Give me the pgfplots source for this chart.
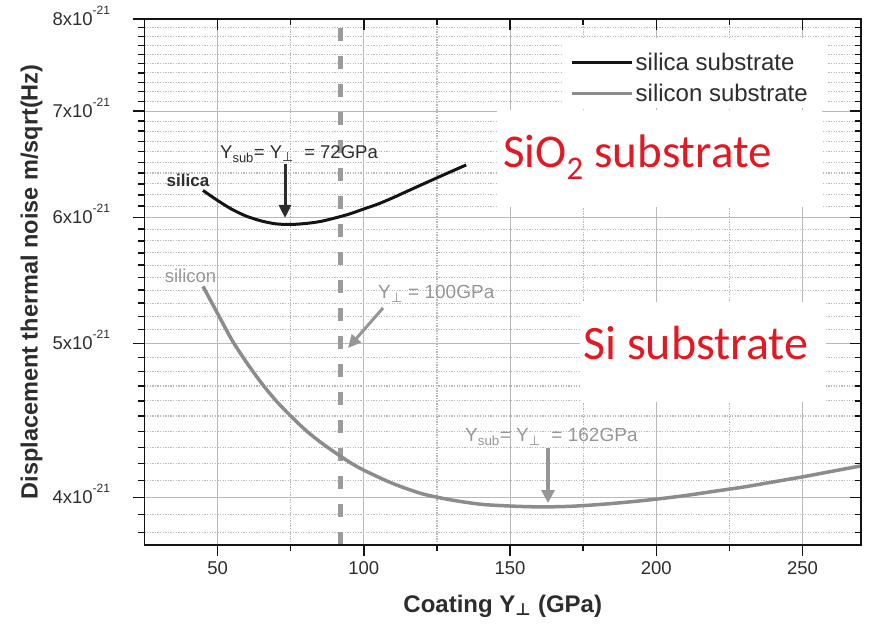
\documentclass[border=0pt]{standalone}
\usepackage{pgfplots}
\pgfplotsset{compat=1.18}
\usepackage{fontspec}
\setmainfont{Liberation Sans}
\newfontfamily\calibri{Carlito}
\newfontfamily\dejavu{DejaVu Sans}
\usetikzlibrary{arrows.meta}
\definecolor{cblack}{RGB}{20,20,20}
\definecolor{tblack}{RGB}{45,45,45}
\definecolor{cgray}{RGB}{140,140,140}
\definecolor{dgray}{RGB}{155,155,155}
\definecolor{tgray}{RGB}{150,150,150}
\definecolor{gridgray}{RGB}{185,185,185}
\definecolor{cred}{RGB}{225,25,35}
\newcommand{\perpsub}{\textsubscript{\dejavu ⊥}}
\newcommand{\perpsubb}{\textsubscript{\dejavu\bfseries ⊥}}
\newcommand{\sci}[1]{#1x10\raisebox{0.62em}{\fontsize{12}{12}\selectfont -21}}

\pgfplotstableread{
x y
45 6.24
50 6.15
55 6.07
60 6.01
65 5.97
70 5.945
75 5.94
80 5.948
85 5.965
90 5.995
95 6.03
100 6.075
105 6.12
110 6.175
115 6.235
120 6.295
125 6.355
130 6.415
135 6.475
}\silica

\pgfplotstableread{
x y
45 5.43
50 5.22
55 5.02
60 4.86
65 4.72
70 4.60
75 4.50
80 4.41
85 4.335
90 4.27
95 4.21
100 4.16
110 4.08
120 4.02
130 3.985
140 3.96
150 3.95
160 3.945
170 3.948
180 3.958
190 3.972
200 3.99
210 4.01
220 4.035
230 4.06
240 4.09
250 4.12
260 4.153
270 4.186
}\silicon

\begin{document}
\begin{tikzpicture}
\begin{axis}[
  at={(144.5pt,81pt)}, anchor=south west,
  width=716.5pt, height=526pt, scale only axis,
  xmin=25, xmax=270, ymin=3.733, ymax=8, ymode=log,
  xtick={50,100,150,200,250}, minor xtick={75,125,175,225},
  ytick={4,5,6,7,8},
  minor ytick={3.8,3.9,4.1,4.2,4.3,4.4,4.5,4.6,4.7,4.8,4.9,5.1,5.2,5.3,5.4,5.5,5.6,5.7,5.8,5.9,6.1,6.2,6.3,6.4,6.5,6.6,6.7,6.8,6.9,7.1,7.2,7.3,7.4,7.5,7.6,7.7,7.8,7.9},
  major tick length=11pt, minor tick length=6pt,
  tick style={cblack, line width=1.4pt},
  axis line style={cblack, line width=1.8pt},
  xtick pos=left, ytick pos=left, tick align=outside,
  xticklabels={50,100,150,200,250},
  yticklabels={\sci{4},\sci{5},\sci{6},\sci{7},\sci{8}},
  tick label style={font=\fontsize{18.5}{18.5}\selectfont, text=tblack},
  yticklabel style={anchor=base east, xshift=-20pt, yshift=-6.5pt},
  xticklabel style={yshift=-2pt},
  grid=both,
  major grid style={draw=gridgray, line width=1.1pt, solid},
  minor grid style={draw=gridgray, line width=1.1pt, dash pattern=on 1.3pt off 1.3pt},
  xlabel={\bfseries Coating Y\perpsubb\ (GPa)},
  ylabel={\bfseries Displacement thermal noise m/sqrt(Hz)},
  every axis x label/.style={at={(axis description cs:0.5,0)}, anchor=center, yshift=-61pt, font=\fontsize{24}{24}\selectfont, text=tblack},
  every axis y label/.style={at={([xshift=-113pt]axis description cs:0,0.5)}, rotate=90, anchor=center, font=\fontsize{23.5}{23.5}\selectfont, text=tblack},
  legend style={at={(0.5827,0.951)}, anchor=north west, draw=none, fill=none,
    font=\fontsize{24}{24}\selectfont, text=tblack, row sep=8pt, inner xsep=8pt, inner ysep=6pt},
  legend cell align=left,
  legend image code/.code={\draw[#1] (0pt,0pt) -- (60pt,0pt);},
]
% white boxes behind the text blocks
\fill[white] (rel axis cs:0.492,0.6426) rectangle (rel axis cs:0.9456,0.827);
\fill[white] (rel axis cs:0.6078,0.2719) rectangle (rel axis cs:0.9511,0.462);
\fill[white] (rel axis cs:0.5827,0.8308) rectangle (rel axis cs:0.9539,0.9639);

\addplot[dgray, line width=4.5pt, dash pattern=on 13pt off 15pt, forget plot] coordinates {(92,3.733) (92,8)};

\addplot[cblack, line width=3pt, smooth] table[x=x,y=y] {\silica};
\addlegendentry{silica substrate}
\addplot[cgray, line width=3.5pt, smooth] table[x=x,y=y] {\silicon};
\addlegendentry{silicon substrate}

\node[anchor=center, font=\bfseries\fontsize{17}{17}\selectfont, text=tblack] at (rel axis cs:0.0607,0.6939) {silica};
\node[anchor=center, font=\fontsize{18.5}{18.5}\selectfont, text=tgray] at (rel axis cs:0.0642,0.5114) {silicon};

\node[anchor=west, inner sep=0, font=\fontsize{18.5}{18.5}\selectfont, text=tblack] at (rel axis cs:0.1054,0.7433) {Y\textsubscript{sub}= Y\perpsub\ \ = 72GPa};
\draw[tblack, line width=3pt, -{Triangle[length=13pt,width=12pt]}] (rel axis cs:0.1961,0.7243) -- (rel axis cs:0.1961,0.6217);

\node[anchor=west, inner sep=0, font=\fontsize{19}{19}\selectfont, text=tgray] at (rel axis cs:0.3259,0.4772) {Y\perpsub\ = 100GPa};
\draw[tgray, line width=3pt, -{Triangle[length=13pt,width=12pt]}] (rel axis cs:0.3329,0.4506) -- (rel axis cs:0.2840,0.3745);

\node[anchor=west, inner sep=0, font=\fontsize{19}{19}\selectfont, text=tgray] at (rel axis cs:0.4473,0.2053) {Y\textsubscript{sub}= Y\perpsub\ \ = 162GPa};
\draw[tgray, line width=3.5pt, -{Triangle[length=13pt,width=13pt]}] (rel axis cs:0.5632,0.1844) -- (rel axis cs:0.5632,0.0798);

\node[anchor=base west, inner sep=0, text=cred, font=\calibri\fontsize{47}{47}\selectfont] at (rel axis cs:0.5004,0.7186) {SiO\textsubscript{2} substrate};
\node[anchor=base west, inner sep=0, text=cred, font=\calibri\fontsize{48}{48}\selectfont] at (rel axis cs:0.612,0.3517) {Si substrate};
\end{axis}

\begin{axis}[
  at={(144.5pt,81pt)}, anchor=south west,
  width=716.5pt, height=526pt, scale only axis,
  xmin=25, xmax=270, ymin=3.733, ymax=8, ymode=log,
  xtick={50,100,150,200,250}, minor xtick={75,125,175,225},
  ytick={4,5,6,7,8},
  minor ytick={3.8,3.9,4.1,4.2,4.3,4.4,4.5,4.6,4.7,4.8,4.9,5.1,5.2,5.3,5.4,5.5,5.6,5.7,5.8,5.9,6.1,6.2,6.3,6.4,6.5,6.6,6.7,6.8,6.9,7.1,7.2,7.3,7.4,7.5,7.6,7.7,7.8,7.9},
  major tick length=11pt, minor tick length=6pt,
  tick style={cblack, line width=1.4pt},
  axis line style={cblack, line width=1.8pt},
  xtick pos=right, ytick pos=right, tick align=inside,
  xticklabels={}, yticklabels={},
]
\addplot[draw=none, forget plot] coordinates {(50,5)};
\end{axis}
\pgfresetboundingbox
\path (0,0) rectangle (870pt,626pt);
\end{tikzpicture}
\end{document}
